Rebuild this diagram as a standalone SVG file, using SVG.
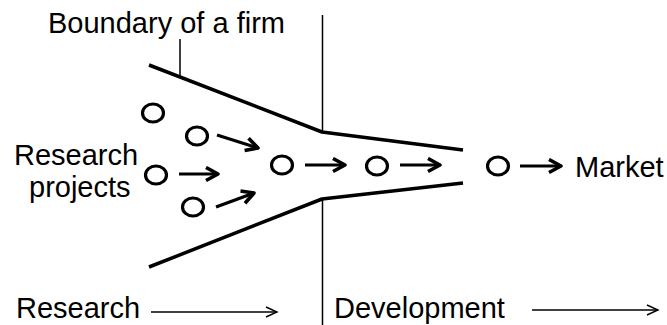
<svg xmlns="http://www.w3.org/2000/svg" width="667" height="325" viewBox="0 0 667 325">
<style>
text{font-family:"Liberation Sans",Arial,sans-serif;font-size:29px;fill:#000}
.funnel{fill:none;stroke:#000;stroke-width:3.5;stroke-linejoin:round}
.thin{fill:none;stroke:#000;stroke-width:1.5}
.node{fill:none;stroke:#000;stroke-width:3.2}
.arr{stroke:#000;stroke-width:3.2;fill:none;marker-end:url(#ah)}
.axis{stroke:#000;stroke-width:1.4;fill:none;marker-end:url(#oh)}
</style>
<defs>
<marker id="ah" markerUnits="userSpaceOnUse" markerWidth="18" markerHeight="18" refX="14" refY="8" orient="auto">
<path d="M2,1.5 L14,8 L2,14.5" fill="none" stroke="#000" stroke-width="3.6" stroke-linejoin="round" stroke-linecap="butt"/>
</marker>
<marker id="oh" markerUnits="userSpaceOnUse" markerWidth="14" markerHeight="12" refX="12" refY="6" orient="auto">
<path d="M1,1 L12,6 L1,11" fill="none" stroke="#000" stroke-width="1.4"/>
</marker>
</defs>
<g id="frame">
<path class="thin" d="M322.5,15 V132 M322.5,199 V325"/>
<path class="funnel" d="M149,65 L322,132 L463,150"/>
<path class="funnel" d="M149,267 L322,199 L463,183"/>
<path class="thin" d="M180,39 V76"/>
</g>
<g id="labels">
<text x="48" y="33">Boundary of a firm</text>
<text x="14" y="165">Research</text>
<text x="29" y="197">projects</text>
<text x="575" y="177">Market</text>
<text x="16" y="318">Research</text>
<text x="334" y="318">Development</text>
</g>
<g id="nodes">
<g id="p1"><ellipse class="node" cx="153" cy="113" rx="10.5" ry="9"/></g>
<g id="p2"><ellipse class="node" cx="197" cy="136" rx="10.5" ry="9"/></g>
<g id="p3"><ellipse class="node" cx="156" cy="175" rx="10.5" ry="9"/></g>
<g id="p4"><ellipse class="node" cx="193" cy="207" rx="10.5" ry="9"/></g>
<g id="c1"><ellipse class="node" cx="282" cy="165" rx="10.5" ry="9"/></g>
<g id="c2"><ellipse class="node" cx="377" cy="166" rx="10.5" ry="9"/></g>
<g id="c3"><ellipse class="node" cx="498" cy="166" rx="10.5" ry="9"/></g>
</g>
<g id="connectors">
<line class="arr" x1="217" y1="135" x2="258" y2="148"/>
<line class="arr" x1="179" y1="174" x2="218" y2="174"/>
<line class="arr" x1="216" y1="207" x2="254" y2="193"/>
<line class="arr" x1="305" y1="165" x2="345" y2="165"/>
<line class="arr" x1="400" y1="165" x2="440" y2="165"/>
<line class="arr" x1="520" y1="166" x2="561" y2="166"/>
<line class="axis" x1="151" y1="312" x2="277" y2="312"/>
<line class="axis" x1="532" y1="310" x2="658" y2="310"/>
</g>
</svg>
